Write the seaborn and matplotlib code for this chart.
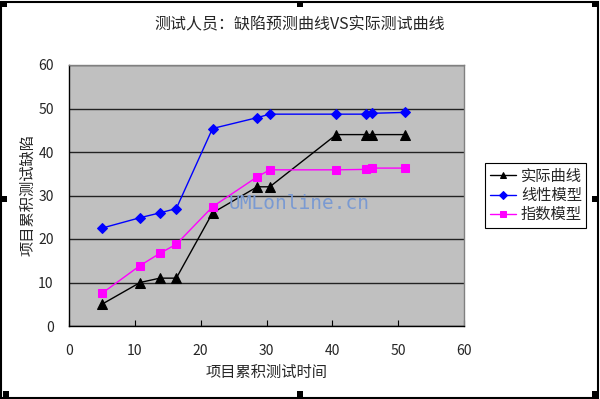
import matplotlib
matplotlib.use("Agg")
import matplotlib.pyplot as plt
import seaborn as sns
import pandas as pd
from matplotlib.patches import Rectangle

# ---- data ----
x_time = [5.0, 10.8, 13.8, 16.3, 21.8, 28.6, 30.5, 40.6, 45.1, 46.1, 51.0]
actual = [5, 10, 11, 11, 26, 32, 32, 44, 44, 44, 44]
linear = [22.5, 24.9, 26.0, 27.0, 45.4, 47.9, 48.7, 48.7, 48.7, 48.9, 49.1]
expo = [7.5, 13.9, 16.7, 18.8, 27.4, 34.3, 35.9, 35.9, 36.0, 36.3, 36.3]
series_names = ["实际曲线", "线性模型", "指数模型"]
x_ticks = [0, 10, 20, 30, 40, 50, 60]
y_ticks = [0, 10, 20, 30, 40, 50, 60]
title = "测试人员：缺陷预测曲线VS实际测试曲线"
xlabel = "项目累积测试时间"
ylabel = "项目累积测试缺陷"
watermark = "UMLonline.cn"

sns.set_theme(style="white")
plt.rcParams["font.family"] = ["Noto Sans CJK SC", "DejaVu Sans"]

fig = plt.figure(figsize=(6.0, 3.99), dpi=100)
fig.patch.set_facecolor("white")
ax = fig.add_axes([69 / 600, 73 / 399, 395 / 600, 261 / 399])
ax.set_facecolor("#C0C0C0")

df = pd.DataFrame({"x": x_time * 3,
                   "y": actual + linear + expo,
                   "series": [series_names[0]] * len(x_time)
                   + [series_names[1]] * len(x_time)
                   + [series_names[2]] * len(x_time)})

styles = {
    series_names[0]: dict(color="black", marker="^", ms=6.5),
    series_names[1]: dict(color="#0000FF", marker="D", ms=5),
    series_names[2]: dict(color="#FF00FF", marker="s", ms=5.5),
}
for name in series_names:
    sub = df[df["series"] == name]
    st = styles[name]
    sns.lineplot(data=sub, x="x", y="y", ax=ax, color=st["color"],
                 marker=st["marker"], markersize=st["ms"],
                 markeredgecolor=st["color"], markerfacecolor=st["color"],
                 linewidth=1.0, label=name, zorder=3)

ax.set_xlim(0, 60)
ax.set_ylim(0, 60)
ax.set_xticks(x_ticks)
ax.set_yticks(y_ticks)
ax.set_xticklabels([str(v) for v in x_ticks], fontsize=10)
ax.set_yticklabels([str(v) for v in y_ticks], fontsize=10)
ax.tick_params(axis="x", direction="in", length=4, width=0.8, color="black",
               pad=13, bottom=True)
ax.tick_params(axis="y", length=0, pad=11)
ax.yaxis.grid(True, color="#222222", linewidth=1.0)
ax.xaxis.grid(False)
ax.set_axisbelow(True)
for side in ["left", "bottom"]:
    ax.spines[side].set_color("black")
    ax.spines[side].set_linewidth(1.0)
for side in ["top", "right"]:
    ax.spines[side].set_color("#808080")
    ax.spines[side].set_linewidth(1.0)

ax.set_xlabel(xlabel, fontsize=11, labelpad=4)
ax.set_ylabel(ylabel, fontsize=11, labelpad=1)
fig.text(0.5, 1 - 25 / 399, title, ha="center", va="center", fontsize=11.5)

ax.text(0.405, 0.47, watermark, transform=ax.transAxes, fontsize=14,
        family="DejaVu Sans Mono", color="#7A9AD2", va="center", ha="left",
        zorder=4)

leg = ax.legend(loc="upper left", bbox_to_anchor=(485 / 600, 1 - 163 / 399),
                bbox_transform=fig.transFigure, borderaxespad=0, fontsize=11,
                frameon=True, fancybox=False, handlelength=1.75,
                handletextpad=0.3, labelspacing=0.15, borderpad=0.3)
leg.get_frame().set_edgecolor("black")
leg.get_frame().set_linewidth(0.8)
leg.get_frame().set_facecolor("white")
leg.get_frame().set_alpha(1)
for h in leg.legend_handles:
    h.set_markersize(4.5)

# figure border and selection handles
fig.patches.append(Rectangle((1 / 600, 1 / 399), 597 / 600, 396 / 399,
                             transform=fig.transFigure, fill=False,
                             edgecolor="black", linewidth=1.5))
for (hx, hy) in [(1, 1), (297, 1), (592, 1), (1, 196), (592, 196),
                 (3, 391), (297, 391), (592, 391)]:
    fig.patches.append(Rectangle((hx / 600, 1 - (hy + 6) / 399), 6 / 600,
                                 6 / 399, transform=fig.transFigure,
                                 facecolor="black", edgecolor="none"))

fig.savefig("out.png", dpi=100)
